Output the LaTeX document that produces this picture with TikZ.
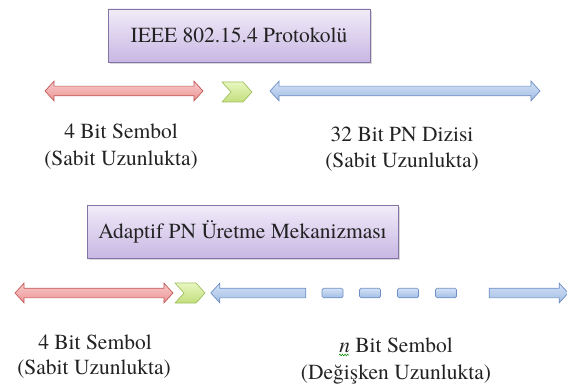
\documentclass[tikz,border=0pt]{standalone}
\usepackage{fontspec}
\IfFontExistsTF{texgyretermes-regular.otf}{%
  \setmainfont{texgyretermes-regular.otf}[ItalicFont=texgyretermes-italic.otf, BoldFont=texgyretermes-bold.otf]
  \newcommand\lblsize{\fontsize{21.5}{24}\selectfont}}{%
  \setmainfont{lmroman10-regular.otf}[ItalicFont=lmroman10-italic.otf, BoldFont=lmroman10-bold.otf]
  \newcommand\lblsize{\fontsize{20}{24}\selectfont}}
\usetikzlibrary{shapes.arrows,shadows,decorations.pathmorphing}
\definecolor{boxtop}{HTML}{F1ECF9}
\definecolor{boxbot}{HTML}{C8B7E3}
\definecolor{boxline}{HTML}{8474A6}
\definecolor{redtop}{HTML}{F9CACA}
\definecolor{redbot}{HTML}{EC9494}
\definecolor{redline}{HTML}{C25A58}
\definecolor{bluetop}{HTML}{D3E2F6}
\definecolor{bluebot}{HTML}{A2BDE4}
\definecolor{blueline}{HTML}{6E8EC4}
\definecolor{greentop}{HTML}{E8F7C0}
\definecolor{greenbot}{HTML}{C2DE7C}
\definecolor{greenline}{HTML}{A0C060}
\definecolor{txt}{HTML}{222222}
\begin{document}
\begin{tikzpicture}[x=1pt,y=-1pt,
  hdr/.style={draw=boxline, line width=0.8pt, top color=boxtop, bottom color=boxbot,
    drop shadow={shadow xshift=2pt, shadow yshift=-2pt, fill=black!30},
    inner sep=0pt, text=txt, font=\lblsize},
  lbl/.style={inner sep=0pt, anchor=base, text=txt, font=\lblsize},
  arrowbase/.style={line width=0.7pt, inner xsep=0pt, inner ysep=4.5pt, text height=0pt, text depth=0pt},
  redarr/.style={arrowbase, shape=double arrow, double arrow head extend=5pt, double arrow tip angle=95,
    draw=redline, top color=redtop, bottom color=redbot},
  bluearr/.style={arrowbase, shape=double arrow, double arrow head extend=5pt, double arrow tip angle=95,
    draw=blueline, top color=bluetop, bottom color=bluebot},
  bluesingle/.style={arrowbase, shape=single arrow, single arrow head extend=5pt, single arrow tip angle=95,
    draw=blueline, top color=bluetop, bottom color=bluebot},
  bluedash/.style={draw=blueline, line width=0.7pt, top color=bluetop, bottom color=bluebot,
    rounded corners=1.5pt, minimum width=21pt, minimum height=9.5pt, inner sep=0pt},
  chevstyle/.style={draw=greenline, line width=0.7pt, line join=round, top color=greentop, bottom color=greenbot},
  chevron/.pic={\path[chevstyle] (-15,-10) -- (6,-10) -- (15,0) -- (6,10) -- (-15,10) -- (-6,0) -- cycle;}
]
\useasboundingbox (0,0) rectangle (567,385);

% top section
\node[hdr, minimum width=262pt, minimum height=53pt] (box1) at (239,35.5) {IEEE 802.15.4 Protokolü};
\node[redarr, minimum height=158pt] (r1) at (124,91) {};
\pic (c1) at (237,92) {chevron};
\node[bluearr, minimum height=270pt] (b1) at (405,91) {};

\node[lbl] (l1a) at (121,139) {4 Bit Sembol};
\node[lbl] (l1b) at (121,165) {(Sabit Uzunlukta)};
\node[lbl] (l2a) at (402,141) {32 Bit PN Dizisi};
\node[lbl] (l2b) at (402,167) {(Sabit Uzunlukta)};

% bottom section
\node[hdr, minimum width=311pt, minimum height=53pt] (box2) at (242.5,231.5) {Adaptif PN Üretme Mekanizması};
\node[redarr, minimum height=158pt] (r2) at (94,293) {};
\pic (c2) at (190,293) {chevron};
\node[bluesingle, shape border rotate=180, minimum height=95pt] (b2a) at (260.5,293) {};
\node[bluedash] (d1) at (332.5,293) {};
\node[bluedash] (d2) at (370,293) {};
\node[bluedash] (d3) at (408,293) {};
\node[bluedash] (d4) at (446,293) {};
\node[bluesingle, minimum height=79pt] (b2b) at (526.5,293) {};

\node[lbl] (l3a) at (95,349) {4 Bit Sembol};
\node[lbl] (l3b) at (94,374) {(Sabit Uzunlukta)};
\node[lbl] (l4a) at (396,352) {\textit{n} Bit Sembol};
\node[lbl] (l4b) at (396,379) {(Değişken Uzunlukta)};
\draw[green!55!black, line width=0.5pt, decorate, decoration={snake, amplitude=0.9pt, segment length=2.6pt}]
  ([yshift=-3pt]l4a.base west) -- ([yshift=-3pt, xshift=10pt]l4a.base west);
\end{tikzpicture}
\end{document}
